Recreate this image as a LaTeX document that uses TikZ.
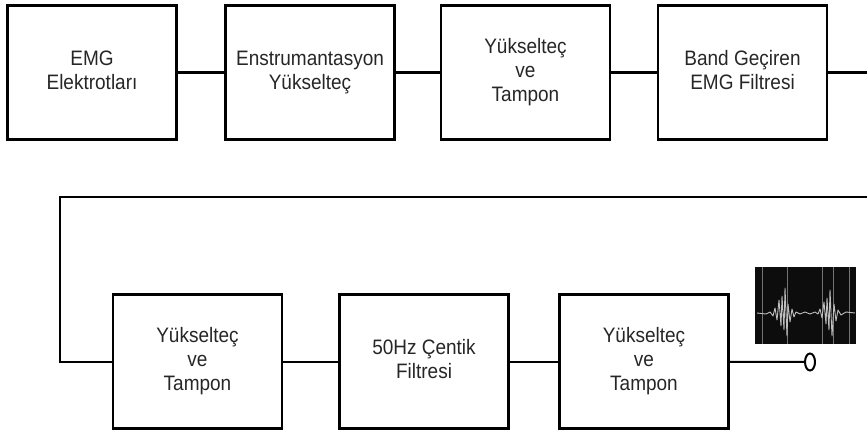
\documentclass[tikz,border=0pt]{standalone}
\usepackage{graphicx}
\usepackage{fontspec}
\setmainfont{Liberation Sans}
\usetikzlibrary{shapes.geometric}
\newcommand\blocktext[1]{\scalebox{1}[1.1]{\begin{tabular}{@{}c@{}}#1\end{tabular}}}
\begin{document}
\begin{tikzpicture}[x=1pt,y=-1pt,
  blockbox/.style={draw=black,line width=2.6pt,minimum width=169pt,minimum height=134pt,inner sep=0pt,align=center,font=\fontsize{19}{22}\selectfont,text=black!85},
  wire/.style={draw=black,line width=2pt},
  outport/.style={draw=black,line width=2pt,ellipse,minimum width=10pt,minimum height=17pt,inner sep=0pt,fill=white}]
\useasboundingbox (0,0) rectangle (867,436);
% top row
\node[blockbox] (b1) at (92,72.5) {\blocktext{EMG\\Elektrotları}};
\node[blockbox] (b2) at (310,72.5) {\blocktext{Enstrumantasyon\\Yükselteç}};
\node[blockbox] (b3) at (525.5,72.5) {\blocktext{Yükselteç\\ve\\Tampon}};
\node[blockbox] (b4) at (742.5,72.5) {\blocktext{Band Geçiren\\EMG Filtresi}};
% bottom row
\node[blockbox] (b5) at (197.5,361.5) {\blocktext{Yükselteç\\ve\\Tampon}};
\node[blockbox] (b6) at (424,361.5) {\blocktext{50Hz Çentik\\Filtresi}};
\node[blockbox] (b7) at (644,361.5) {\blocktext{Yükselteç\\ve\\Tampon}};
\node[outport] (out) at (810,362) {};
\coordinate (e1) at (867,72.5);
\coordinate (e2) at (867,197);
\coordinate (l1) at (60,197);
% connectors
\draw[wire] (b1) -- (b2);
\draw[wire] (b2) -- (b3);
\draw[wire] (b3) -- (b4);
\draw[wire] (b4) -- (e1);
\draw[wire] (e2) -- (l1) |- (b5.west);
\draw[wire] (b5) -- (b6);
\draw[wire] (b6) -- (b7);
\draw[wire] (b7) -- (out);
% EMG signal picture
\fill[black!95] (755,267) rectangle (856,344);
\foreach \vx in {762,787,822,833,849}
  \draw[black!55,line width=0.8pt] (\vx,267) -- (\vx,344);
\draw[black!25,line width=0.9pt,line join=round]
  (757,313) -- (766,314) -- (770,312) -- (773,316) -- (775,308) -- (777,320) -- (779,300)
  -- (781,326) -- (782,296) -- (784,330) -- (785,288) -- (787,336) -- (788,304) -- (790,322)
  -- (792,309) -- (794,317) -- (796,312) -- (800,314) -- (805,312) -- (810,314) -- (815,312)
  -- (818,314) -- (820,309) -- (822,318) -- (824,302) -- (826,324) -- (827,298) -- (829,330)
  -- (830,290) -- (832,336) -- (834,304) -- (836,321) -- (838,310) -- (841,315) -- (846,312)
  -- (855,313);
\end{tikzpicture}
\end{document}
